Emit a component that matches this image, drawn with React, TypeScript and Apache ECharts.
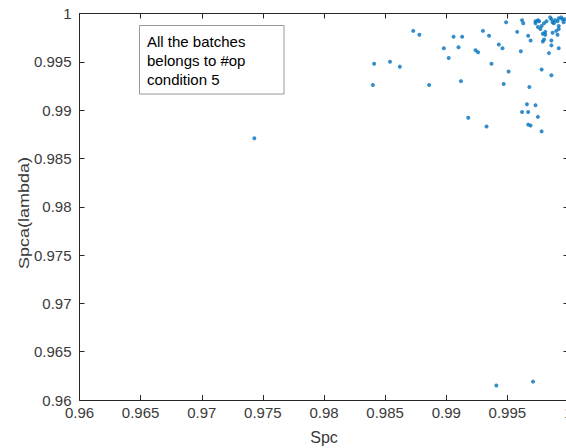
import React, { useEffect, useRef } from "react";
import * as echarts from "echarts";

const spcValues: number[] = [
  0.9743, 0.9941, 0.9971,
  0.9873, 0.9878, 0.9841, 0.9854, 0.9862, 0.9840, 0.9886, 0.9898, 0.9902, 0.9906,
  0.9913, 0.9910, 0.9912, 0.9918, 0.9924, 0.9926, 0.9930, 0.9935, 0.9933, 0.9937,
  0.9943, 0.9946, 0.9949, 0.9951, 0.9947, 0.9958, 0.9961, 0.9962, 0.9963, 0.9967,
  0.9969, 0.9968, 0.9966, 0.9962, 0.9967, 0.9973, 0.9975, 0.9967, 0.9969, 0.9978,
  0.9978, 0.9986, 0.9984, 0.9986, 0.9986, 0.9987, 0.9991, 0.9992, 0.9990, 0.9979,
  0.9980, 0.9977, 0.9981, 0.9979, 0.9981,
  0.9973, 0.9973, 0.9975, 0.9976, 0.9978, 0.9980, 0.9982, 0.9985, 0.9986, 0.9987,
  0.9992, 0.9994, 0.9995, 0.9991, 0.9992, 0.9988, 0.9989, 0.9997, 0.9975, 0.9992,
  0.9996,
];

const spcaValues: number[] = [
  0.9871, 0.9615, 0.9619,
  0.9982, 0.9978, 0.9948, 0.9950, 0.9945, 0.9926, 0.9926, 0.9964, 0.9954, 0.9976,
  0.9976, 0.9965, 0.9930, 0.9892, 0.9962, 0.9960, 0.9982, 0.9977, 0.9883, 0.9948,
  0.9968, 0.9964, 0.9991, 0.9940, 0.9927, 0.9981, 0.9961, 0.9993, 0.9990, 0.9977,
  0.9972, 0.9924, 0.9906, 0.9898, 0.9898, 0.9905, 0.9893, 0.9885, 0.9884, 0.9878,
  0.9942, 0.9936, 0.9959, 0.9967, 0.9972, 0.9980, 0.9978, 0.9964, 0.9982, 0.9971,
  0.9973, 0.9984, 0.9981, 0.9979, 0.9978,
  0.9992, 0.9990, 0.9993, 0.9992, 0.9987, 0.9990, 0.9992, 0.9996, 0.9994, 0.9991,
  0.9995, 0.9996, 0.9994, 0.9992, 0.9987, 0.9990, 0.9993, 0.9994, 0.9986, 0.9984,
  0.9991,
];

const annotationLines: string[] = ["All the batches", "belongs to #op", "condition 5"];
const xName = "Spc";
const yName = "Spca(lambda)";

const FONT = "'Liberation Sans', Arial, Helvetica, sans-serif";
const AXIS_COLOR = "#262626";
const TEXT_COLOR = "#3a3a3a";

export default function App() {
  const ref = useRef<HTMLDivElement>(null);

  useEffect(() => {
    document.body.style.margin = "0";
    if (!ref.current) return;
    const chart = echarts.init(ref.current, undefined, { renderer: "svg" });
    const points = spcValues.map((x, i) => [x, spcaValues[i]]);

    const axisCommon = {
      type: "value" as const,
      min: 0.96,
      max: 1,
      interval: 0.005,
      splitLine: { show: false },
      axisLine: { show: true, onZero: false, lineStyle: { color: AXIS_COLOR, width: 1 } },
      axisTick: { show: true, inside: true, length: 5, lineStyle: { color: AXIS_COLOR } },
    };

    chart.setOption({
      animation: false,
      backgroundColor: "#ffffff",
      textStyle: { fontFamily: FONT },
      grid: {
        left: 79.5,
        top: 13.5,
        width: 489,
        height: 386.5,
        containLabel: false,
        outerBoundsMode: "none",
      },
      xAxis: [
        {
          ...axisCommon,
          position: "bottom",
          name: xName,
          nameLocation: "middle",
          nameGap: 29,
          nameTextStyle: { fontSize: 16, color: TEXT_COLOR, fontFamily: FONT },
          axisLabel: { fontSize: 15, color: TEXT_COLOR, margin: 5, fontFamily: FONT },
        },
        {
          ...axisCommon,
          position: "top",
          axisLabel: { show: false },
        },
      ],
      yAxis: [
        {
          ...axisCommon,
          position: "left",
          axisLabel: { fontSize: 15, color: TEXT_COLOR, margin: 8, fontFamily: FONT },
        },
        {
          ...axisCommon,
          position: "right",
          axisLabel: { show: false },
        },
      ],
      graphic: [
        {
          type: "text",
          x: 24,
          y: 213,
          rotation: Math.PI / 2,
          scaleX: 1.2,
          style: {
            text: yName,
            fill: TEXT_COLOR,
            fontSize: 15,
            fontFamily: FONT,
            textAlign: "center",
            textVerticalAlign: "middle",
          },
        },
        {
          type: "rect",
          shape: { x: 139.5, y: 25.5, width: 144.5, height: 68.5 },
          style: { fill: "#ffffff", stroke: "#999999", lineWidth: 1 },
          z: 10,
        },
        {
          type: "text",
          x: 147,
          y: 32,
          z: 11,
          style: {
            text: annotationLines.join("\n"),
            fill: "#000000",
            fontSize: 15,
            lineHeight: 19,
            fontFamily: FONT,
            textAlign: "left",
            textVerticalAlign: "top",
          },
        },
      ],
      series: [
        {
          type: "scatter",
          xAxisIndex: 0,
          yAxisIndex: 0,
          data: points,
          symbol: "circle",
          symbolSize: 4,
          itemStyle: { color: "#0072BD" },
          silent: true,
        },
      ],
    });

    return () => chart.dispose();
  }, []);

  return (
    <div
      ref={ref}
      style={{ position: "fixed", left: 0, top: 0, width: 566, height: 448, background: "#fff" }}
    />
  );
}
